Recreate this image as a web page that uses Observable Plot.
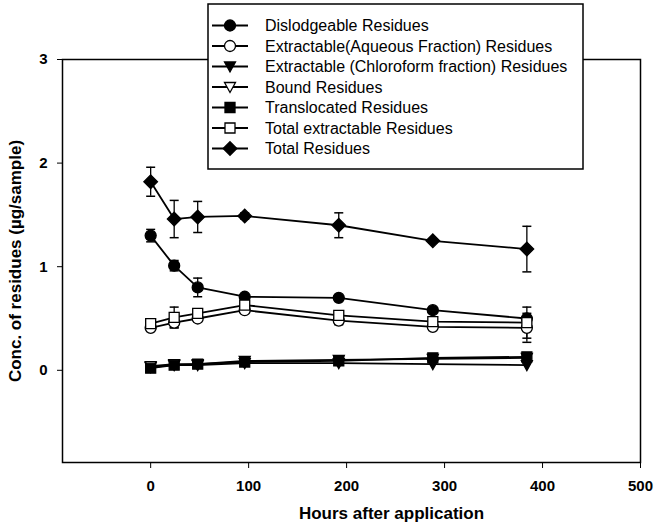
<!DOCTYPE html>
<html>
<head>
<meta charset="utf-8">
<script src="https://cdn.jsdelivr.net/npm/d3@7"></script>
<script src="https://cdn.jsdelivr.net/npm/@observablehq/plot@0.6"></script>
<style>
  html, body { margin: 0; padding: 0; background: #fff; }
  #wrap { position: relative; width: 655px; height: 526px; }
  #wrap svg { display: block; }
  #legend { position: absolute; left: 0; top: 0; pointer-events: none; }
</style>
</head>
<body>
<div id="wrap"></div>
<script>
// ---- data ----
const hours = [0, 24, 48, 96, 192, 288, 384];
const seriesNames = [
  "Dislodgeable Residues",
  "Extractable(Aqueous Fraction) Residues",
  "Extractable (Chloroform fraction) Residues",
  "Bound Residues",
  "Translocated Residues",
  "Total extractable Residues",
  "Total Residues"
];
const dislodgeable     = [1.30, 1.01, 0.80, 0.71, 0.70, 0.58, 0.50];
const dislodgeableErr  = [0.06, 0.05, 0.09, 0.02, 0.02, 0.02, 0.02];
const aqueous          = [0.41, 0.46, 0.50, 0.58, 0.48, 0.42, 0.41];
const aqueousErr       = [0.02, 0.05, 0.03, 0.03, 0.04, 0.02, 0.14];
const chloroform       = [0.03, 0.05, 0.05, 0.07, 0.07, 0.06, 0.05];
const bound            = [0.04, 0.06, 0.06, 0.09, 0.10, 0.11, 0.12];
const translocated     = [0.02, 0.05, 0.06, 0.08, 0.09, 0.12, 0.13];
const totalExtractable    = [0.45, 0.51, 0.55, 0.63, 0.53, 0.47, 0.46];
const totalExtractableErr = [0.02, 0.10, 0.03, 0.03, 0.04, 0.02, 0.15];
const total            = [1.82, 1.46, 1.48, 1.49, 1.40, 1.25, 1.17];
const totalErr         = [0.14, 0.18, 0.15, 0.03, 0.12, 0.02, 0.22];
const xTicks = [0, 100, 200, 300, 400, 500];
const yTicks = [0, 1, 2, 3];
const xLabel = "Hours after application";
const yLabel = "Conc. of residues (µg/sample)";

// ---- symbols ----
const symCircle = {draw(c) { c.moveTo(5.5, 0); c.arc(0, 0, 5.5, 0, 2 * Math.PI); c.closePath(); }};
const symSquare = {draw(c) { c.rect(-5, -5, 10, 10); }};
const symDiamond = {draw(c) { c.moveTo(0, -6.8); c.lineTo(6.8, 0); c.lineTo(0, 6.8); c.lineTo(-6.8, 0); c.closePath(); }};
const symTriDown = {draw(c) { c.moveTo(-5.5, -4.5); c.lineTo(5.5, -4.5); c.lineTo(0, 5.5); c.closePath(); }};
const symCap = {draw(c) { c.moveTo(-4.5, 0); c.lineTo(4.5, 0); }};

const series = [
  {name: seriesNames[0], values: dislodgeable, err: dislodgeableErr, sym: symCircle, fill: "black"},
  {name: seriesNames[1], values: aqueous, err: aqueousErr, sym: symCircle, fill: "white"},
  {name: seriesNames[2], values: chloroform, err: null, sym: symTriDown, fill: "black"},
  {name: seriesNames[3], values: bound, err: null, sym: symTriDown, fill: "white"},
  {name: seriesNames[4], values: translocated, err: null, sym: symSquare, fill: "black"},
  {name: seriesNames[5], values: totalExtractable, err: totalExtractableErr, sym: symSquare, fill: "white"},
  {name: seriesNames[6], values: total, err: totalErr, sym: symDiamond, fill: "black"}
];

const rows = series.flatMap(s => hours.map((h, i) => ({
  series: s.name, x: h, y: s.values[i], e: s.err ? s.err[i] : 0
})));
const errRows = rows.filter(d => d.e > 0);

const font = "Liberation Sans, Arial, Helvetica, sans-serif";

const marks = [
  Plot.lineY(rows, {x: "x", y: "y", z: "series", stroke: "black", strokeWidth: 1.8}),
  Plot.ruleX(errRows, {x: "x", y1: d => d.y - d.e, y2: d => d.y + d.e, stroke: "black", strokeWidth: 1.3}),
  Plot.dot(errRows, {x: "x", y: d => d.y + d.e, symbol: symCap, stroke: "black", fill: "none", strokeWidth: 1.5}),
  Plot.dot(errRows, {x: "x", y: d => d.y - d.e, symbol: symCap, stroke: "black", fill: "none", strokeWidth: 1.5}),
  ...series.map(s => Plot.dot(rows.filter(d => d.series === s.name), {
    x: "x", y: "y", symbol: s.sym, fill: s.fill, stroke: "black", strokeWidth: 1.3
  })),
  Plot.frame({stroke: "black", strokeWidth: 1.5}),
  Plot.axisY({ticks: yTicks, tickSize: 5, tickPadding: 10, label: null, fontSize: 15, fontWeight: "bold", tickFormat: d3.format("d")}),
  Plot.axisX({ticks: xTicks, tickSize: 6, tickPadding: 12, label: null, fontSize: 15, fontWeight: "bold", tickFormat: d3.format("d")}),
  Plot.text([xLabel], {frameAnchor: "bottom", dy: 51, dx: 40, lineAnchor: "middle", textAnchor: "middle", fontSize: 17, fontWeight: "bold"}),
  Plot.text([yLabel], {frameAnchor: "left", dx: -47, rotate: -90, lineAnchor: "middle", textAnchor: "middle", fontSize: 17, fontWeight: "bold"})
];

const chart = Plot.plot({
  width: 655,
  height: 526,
  marginLeft: 62,
  marginRight: 15,
  marginTop: 59,
  marginBottom: 64,
  style: {fontFamily: font, color: "black", background: "white"},
  x: {domain: [-90, 500]},
  y: {domain: [-0.89, 3]},
  marks
});
const wrap = document.getElementById("wrap");
wrap.appendChild(chart);

// ---- legend overlay ----
const lg = d3.select(wrap).append("svg")
  .attr("id", "legend")
  .attr("width", 655).attr("height", 526);
lg.append("rect")
  .attr("x", 208).attr("y", 4).attr("width", 375).attr("height", 165)
  .attr("fill", "white").attr("stroke", "black").attr("stroke-width", 1.5);
series.forEach((s, i) => {
  const cy = 25.5 + i * 20.5;
  const g = lg.append("g");
  g.append("line").attr("x1", 212).attr("x2", 248).attr("y1", cy).attr("y2", cy)
    .attr("stroke", "black").attr("stroke-width", 1.8);
  g.append("path").attr("d", d3.symbol(s.sym)())
    .attr("transform", `translate(230,${cy})`)
    .attr("fill", s.fill).attr("stroke", "black").attr("stroke-width", 1.3);
  g.append("text").attr("x", 265).attr("y", cy).attr("dy", "0.36em")
    .attr("font-family", font).attr("font-size", 16)
    .text(s.name);
});
</script>
</body>
</html>
